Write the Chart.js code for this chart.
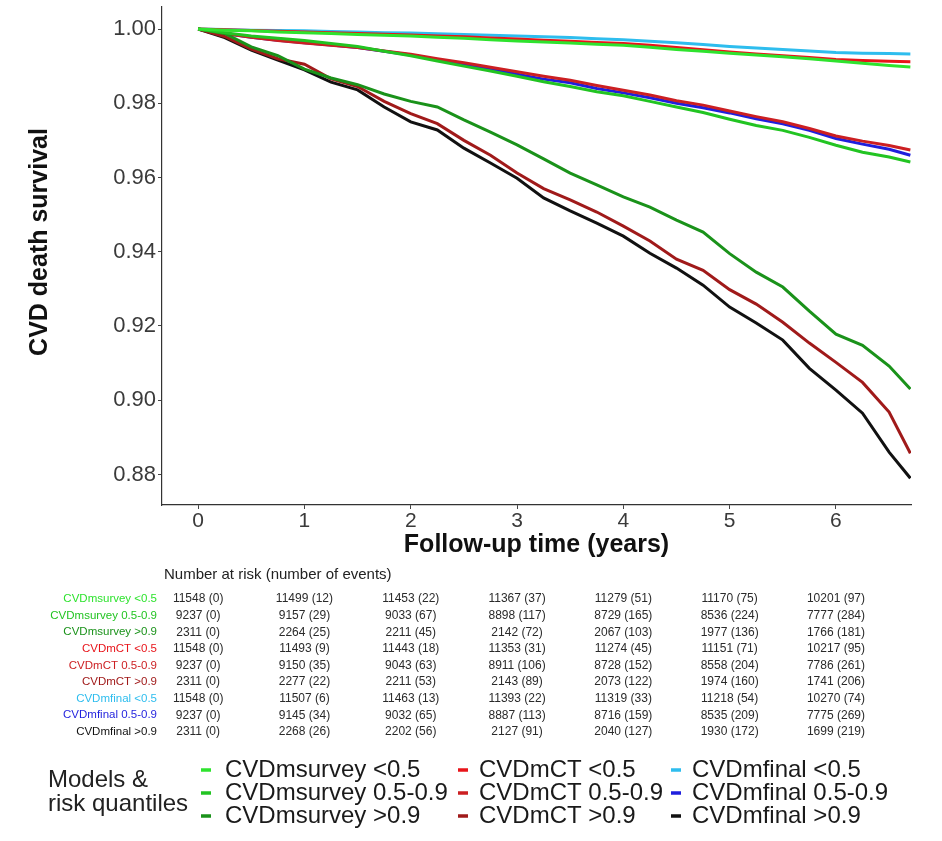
<!DOCTYPE html>
<html><head><meta charset="utf-8">
<script src="https://cdn.jsdelivr.net/npm/chart.js@4.4.1/dist/chart.umd.min.js"></script>
<style>html,body{margin:0;padding:0;background:#fff;}#wrap{width:942px;height:841px;}</style>
</head><body><div id="wrap"><canvas id="c" width="942" height="841"></canvas></div>
<script>
// ---------- data ----------
const times = [0,0.25,0.5,0.75,1,1.25,1.5,1.75,2,2.25,2.5,2.75,3,3.25,3.5,3.75,4,4.25,4.5,4.75,5,5.25,5.5,5.75,6,6.25,6.5,6.7];

const msurveyLow  = [1.0000,0.9997,0.9995,0.9992,0.9990,0.9988,0.9985,0.9983,0.9981,0.9978,0.9975,0.9971,0.9968,0.9965,0.9962,0.9959,0.9956,0.9951,0.9945,0.9940,0.9935,0.9930,0.9925,0.9920,0.9914,0.9908,0.9902,0.9898];
const msurveyMid  = [1.0000,0.9990,0.9981,0.9975,0.9969,0.9961,0.9953,0.9940,0.9928,0.9914,0.9900,0.9887,0.9873,0.9858,0.9845,0.9831,0.9820,0.9805,0.9790,0.9775,0.9757,0.9740,0.9727,0.9708,0.9687,0.9668,0.9655,0.9642];
const msurveyHigh = [1.0000,0.9988,0.9952,0.9928,0.9892,0.9868,0.9850,0.9825,0.9805,0.9790,0.9755,0.9722,0.9688,0.9650,0.9612,0.9580,0.9548,0.9520,0.9485,0.9453,0.9395,0.9345,0.9305,0.9240,0.9178,0.9148,0.9092,0.9030];
const mctLow      = [1.0000,0.9998,0.9996,0.9994,0.9992,0.9990,0.9988,0.9986,0.9984,0.9981,0.9979,0.9976,0.9973,0.9970,0.9967,0.9964,0.9961,0.9956,0.9950,0.9944,0.9938,0.9933,0.9928,0.9923,0.9918,0.9915,0.9913,0.9912];
const mctMid      = [1.0000,0.9988,0.9978,0.9969,0.9962,0.9956,0.9950,0.9941,0.9932,0.9920,0.9909,0.9897,0.9885,0.9873,0.9862,0.9848,0.9835,0.9822,0.9807,0.9795,0.9779,0.9764,0.9750,0.9732,0.9712,0.9698,0.9686,0.9674];
const mctHigh     = [1.0000,0.9980,0.9946,0.9920,0.9905,0.9866,0.9845,0.9805,0.9772,0.9745,0.9700,0.9660,0.9612,0.9570,0.9540,0.9507,0.9469,0.9429,0.9380,0.9350,0.9298,0.9259,0.9210,0.9154,0.9102,0.9048,0.8968,0.8857];
const mfinalLow   = [1.0000,0.9999,0.9997,0.9996,0.9995,0.9993,0.9992,0.9990,0.9989,0.9987,0.9985,0.9983,0.9981,0.9979,0.9977,0.9974,0.9971,0.9967,0.9963,0.9958,0.9953,0.9949,0.9945,0.9941,0.9937,0.9935,0.9934,0.9933];
const mfinalMid   = [1.0000,0.9988,0.9978,0.9970,0.9963,0.9957,0.9950,0.9940,0.9930,0.9917,0.9905,0.9892,0.9878,0.9865,0.9855,0.9840,0.9828,0.9815,0.9800,0.9788,0.9774,0.9758,0.9745,0.9727,0.9705,0.9690,0.9676,0.9660];
const mfinalHigh  = [1.0000,0.9977,0.9943,0.9916,0.9890,0.9857,0.9836,0.9790,0.9750,0.9728,0.9679,0.9639,0.9598,0.9545,0.9510,0.9477,0.9442,0.9396,0.9356,0.9310,0.9251,0.9208,0.9162,0.9086,0.9027,0.8965,0.8860,0.8790];

const seriesLabels = ['CVDmsurvey <0.5','CVDmsurvey 0.5-0.9','CVDmsurvey >0.9','CVDmCT <0.5','CVDmCT 0.5-0.9','CVDmCT >0.9','CVDmfinal <0.5','CVDmfinal 0.5-0.9','CVDmfinal >0.9'];
const seriesColors = ['#2ee32e','#22c422','#1a921a','#e8141a','#cc1f22','#a01a1a','#2ebdee','#1f1fdd','#111111'];

const xTickValues = [0,1,2,3,4,5,6];
const yTickValues = [0.88,0.90,0.92,0.94,0.96,0.98,1.00];
const xTitle = 'Follow-up time (years)';
const yTitle = 'CVD death survival';

// number at risk (number of events) at years 0..6
const tableYears = [0,1,2,3,4,5,6];
const atRiskMsurveyLow  = [11548,11499,11453,11367,11279,11170,10201];
const eventsMsurveyLow  = [0,12,22,37,51,75,97];
const atRiskMsurveyMid  = [9237,9157,9033,8898,8729,8536,7777];
const eventsMsurveyMid  = [0,29,67,117,165,224,284];
const atRiskMsurveyHigh = [2311,2264,2211,2142,2067,1977,1766];
const eventsMsurveyHigh = [0,25,45,72,103,136,181];
const atRiskMctLow      = [11548,11493,11443,11353,11274,11151,10217];
const eventsMctLow      = [0,9,18,31,45,71,95];
const atRiskMctMid      = [9237,9150,9043,8911,8728,8558,7786];
const eventsMctMid      = [0,35,63,106,152,204,261];
const atRiskMctHigh     = [2311,2277,2211,2143,2073,1974,1741];
const eventsMctHigh     = [0,22,53,89,122,160,206];
const atRiskMfinalLow   = [11548,11507,11463,11393,11319,11218,10270];
const eventsMfinalLow   = [0,6,13,22,33,54,74];
const atRiskMfinalMid   = [9237,9145,9032,8887,8716,8535,7775];
const eventsMfinalMid   = [0,34,65,113,159,209,269];
const atRiskMfinalHigh  = [2311,2268,2202,2127,2040,1930,1699];
const eventsMfinalHigh  = [0,26,56,91,127,172,219];

// ---------- build ----------
const seriesValues = [msurveyLow,msurveyMid,msurveyHigh,mctLow,mctMid,mctHigh,mfinalLow,mfinalMid,mfinalHigh];
const riskRows = [
  [atRiskMsurveyLow,eventsMsurveyLow],[atRiskMsurveyMid,eventsMsurveyMid],[atRiskMsurveyHigh,eventsMsurveyHigh],
  [atRiskMctLow,eventsMctLow],[atRiskMctMid,eventsMctMid],[atRiskMctHigh,eventsMctHigh],
  [atRiskMfinalLow,eventsMfinalLow],[atRiskMfinalMid,eventsMfinalMid],[atRiskMfinalHigh,eventsMfinalHigh]
];
const FONT = "'Liberation Sans', Arial, Helvetica, sans-serif";

const datasets = seriesValues.map((vals,i)=>({
  label: seriesLabels[i],
  data: times.map((t,j)=>({x:t,y:vals[j]})),
  borderColor: seriesColors[i],
  backgroundColor: seriesColors[i],
  borderWidth: 3,
  pointRadius: 0,
  tension: 0,
  fill: false
}));

const extrasPlugin = {
  id: 'extras',
  afterDraw(chart){
    const ctx = chart.ctx;
    const xs = chart.scales.x;
    const area = chart.chartArea;
    ctx.save();
    // axis titles
    ctx.fillStyle = '#111';
    ctx.font = 'bold 25px ' + FONT;
    ctx.textAlign = 'center';
    ctx.textBaseline = 'middle';
    ctx.fillText(xTitle, (area.left + area.right) / 2, 545);
    ctx.save();
    ctx.translate(40, 242);
    ctx.rotate(-Math.PI / 2);
    ctx.fillText(yTitle, 0, 0);
    ctx.restore();
    // risk table header
    ctx.fillStyle = '#222';
    ctx.font = '15px ' + FONT;
    ctx.textAlign = 'left';
    ctx.fillText('Number at risk (number of events)', 164, 575);
    const rowY0 = 599, rowDy = 16.6;
    riskRows.forEach((row,r)=>{
      const y = rowY0 + r*rowDy;
      ctx.font = '11.5px ' + FONT;
      ctx.textAlign = 'right';
      ctx.fillStyle = seriesColors[r];
      ctx.fillText(seriesLabels[r], 157, y);
      ctx.font = '12px ' + FONT;
      ctx.textAlign = 'center';
      ctx.fillStyle = '#2a2a2a';
      tableYears.forEach((yr,k)=>{
        ctx.fillText(row[0][k] + ' (' + row[1][k] + ')', xs.getPixelForValue(yr), y);
      });
    });
    // legend
    ctx.fillStyle = '#222';
    ctx.font = '24px ' + FONT;
    ctx.textAlign = 'left';
    ctx.fillText('Models &', 48, 780);
    ctx.fillText('risk quantiles', 48, 804);
    const keyX = [206, 463, 676], textX = [225, 479, 692], rowY = [770, 793, 816];
    seriesLabels.forEach((lab,i)=>{
      const c = Math.floor(i/3), r = i%3;
      ctx.strokeStyle = seriesColors[i];
      ctx.lineWidth = 3.5;
      ctx.beginPath();
      ctx.moveTo(keyX[c]-5, rowY[r]);
      ctx.lineTo(keyX[c]+5, rowY[r]);
      ctx.stroke();
      ctx.fillStyle = '#1a1a1a';
      ctx.fillText(lab, textX[c], rowY[r]);
    });
    ctx.restore();
  }
};

new Chart(document.getElementById('c'), {
  type: 'line',
  data: { datasets },
  plugins: [extrasPlugin],
  options: {
    responsive: false,
    animation: false,
    devicePixelRatio: 1,
    layout: { padding: { left: 0, top: 7, right: 31, bottom: 276 } },
    plugins: { legend: { display: false }, tooltip: { enabled: false } },
    scales: {
      x: {
        type: 'linear',
        min: -0.34, max: 6.706,
        afterBuildTicks: s => { s.ticks = xTickValues.map(v => ({ value: v })); },
        afterFit: s => { s.height = 60; s.paddingLeft = 0; s.paddingRight = 0; },
        ticks: { font: { family: FONT, size: 21 }, color: '#3a3a3a', padding: 0, maxRotation: 0, autoSkip: false,
                 callback: v => String(v) },
        grid: { display: true, drawOnChartArea: false, drawTicks: true, tickLength: 4, color: '#444', lineWidth: 1 },
        border: { display: true, color: '#333', width: 1.2 },
        title: { display: false }
      },
      y: {
        type: 'linear',
        min: 0.87178, max: 1.00593,
        afterBuildTicks: s => { s.ticks = yTickValues.map(v => ({ value: v })); },
        afterFit: s => { s.width = 162; s.paddingTop = 0; s.paddingBottom = 0; },
        ticks: { font: { family: FONT, size: 22 }, color: '#3a3a3a', padding: 2, callback: v => Number(v).toFixed(2) },
        grid: { display: true, drawOnChartArea: false, drawTicks: true, tickLength: 4, color: '#444', lineWidth: 1 },
        border: { display: true, color: '#333', width: 1.2 },
        title: { display: false }
      }
    }
  }
});
</script>
</body></html>
